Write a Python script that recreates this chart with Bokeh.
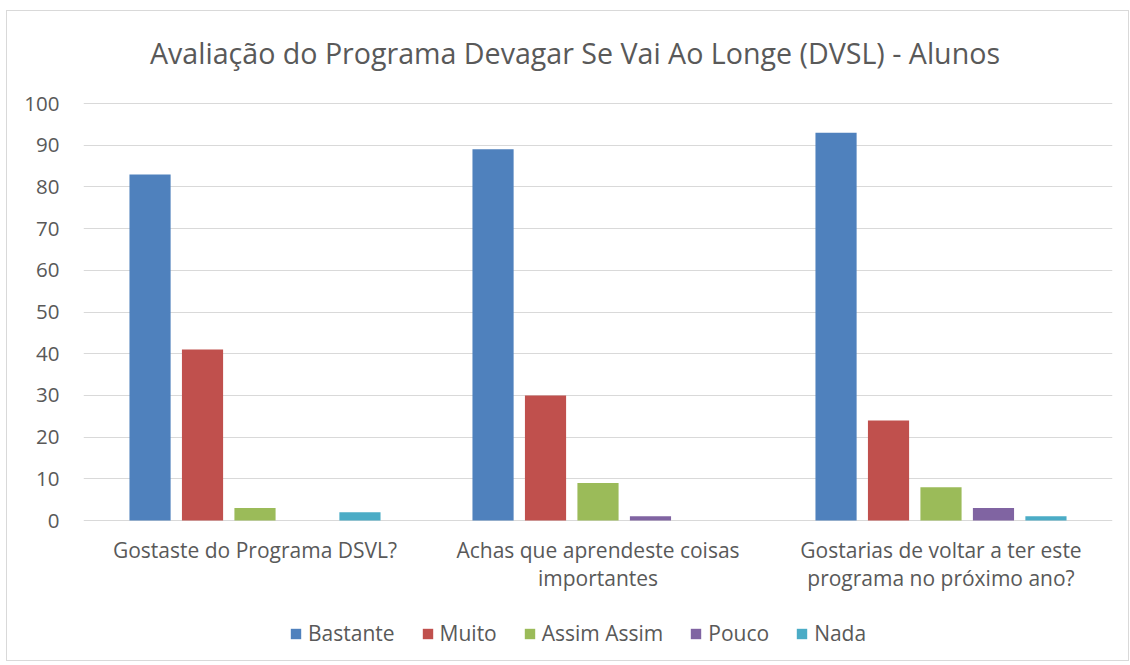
from bokeh.plotting import figure
from bokeh.models import ColumnDataSource, FixedTicker, Legend, LegendItem, Range1d
from bokeh.core.properties import value
from bokeh.embed import file_html
from bokeh.resources import INLINE

title = "Avaliação do Programa Devagar Se Vai Ao Longe (DVSL) - Alunos"
categories = ["Gostaste do Programa DSVL?",
              "Achas que aprendeste coisas\nimportantes",
              "Gostarias de voltar a ter este\nprograma no próximo ano?"]
series = ["Bastante", "Muito", "Assim Assim", "Pouco", "Nada"]
bastante = [83, 89, 93]
muito = [41, 30, 24]
assim = [3, 9, 8]
pouco = [0, 1, 3]
nada = [2, 0, 1]
values = [bastante, muito, assim, pouco, nada]
colors = ["#4F81BD", "#C0504D", "#9BBB59", "#8064A2", "#4BACC6"]
y_ticks = list(range(0, 101, 10))

FONT = "Open Sans"
GREY = "#595959"

PX = 4.17  # pixels per value unit
# frame extends above 100 (title) and below zero (category labels, legend)
p = figure(frame_width=1029, frame_height=649, output_backend="svg", toolbar_location=None,
           x_range=Range1d(0, 3), y_range=Range1d(-140 / PX, 100 + 92 / PX),
           min_border_left=76, min_border_right=16, min_border_top=0, min_border_bottom=0)
p.styles = {"border": "1px solid #d9d9d9", "margin-left": "6px", "margin-top": "10px"}
p.outline_line_color = None

items = []
step = 0.153
for i, (name, vals, c) in enumerate(zip(series, values, colors)):
    xs = [k + 0.5 + (i - 2) * step for k in range(len(categories))]
    src = ColumnDataSource(dict(x=xs, top=vals))
    r = p.vbar(x="x", top="top", width=0.12, bottom=0, source=src,
               fill_color=c, line_color=None)
    items.append(LegendItem(label=name, renderers=[r]))

# chart title above the 100 line
p.text(x=[1.5], y=[max(y_ticks)], text=[title], x_offset=-23, y_offset=-51,
       text_align="center", text_baseline="middle", text_font=value(FONT),
       text_font_size="28.6px", text_color=GREY)

# category labels under the baseline
cat_src = ColumnDataSource(dict(x=[k + 0.5 for k in range(len(categories))],
                                y=[0] * len(categories), text=categories))
p.text(x="x", y="y", text="text", source=cat_src, y_offset=15,
       text_align="center", text_baseline="top", text_font=value(FONT),
       text_font_size="21px", text_color=GREY, text_line_height=1.03)

p.xaxis.visible = False
p.xgrid.visible = False
p.ygrid.ticker = FixedTicker(ticks=y_ticks)
p.ygrid.grid_line_color = "#d9d9d9"
p.ygrid.grid_line_width = 1
p.yaxis.ticker = FixedTicker(ticks=y_ticks)
p.yaxis.axis_line_color = None
p.yaxis.major_tick_line_color = None
p.yaxis.minor_tick_line_color = None
p.yaxis.major_label_text_font = FONT
p.yaxis.major_label_text_font_size = "20.5px"
p.yaxis.major_label_text_color = GREY
p.yaxis.major_label_standoff = 18

legend = Legend(items=items, orientation="horizontal", location=(206, 13))
legend.label_text_font = FONT
legend.label_text_font_size = "21px"
legend.label_text_color = GREY
legend.glyph_width = 13
legend.glyph_height = 13
legend.spacing = 26
legend.label_standoff = 6
legend.border_line_color = None
legend.background_fill_alpha = 0
legend.margin = 0
legend.padding = 0
p.add_layout(legend)

open("out.html", "w").write(file_html(p, INLINE))
